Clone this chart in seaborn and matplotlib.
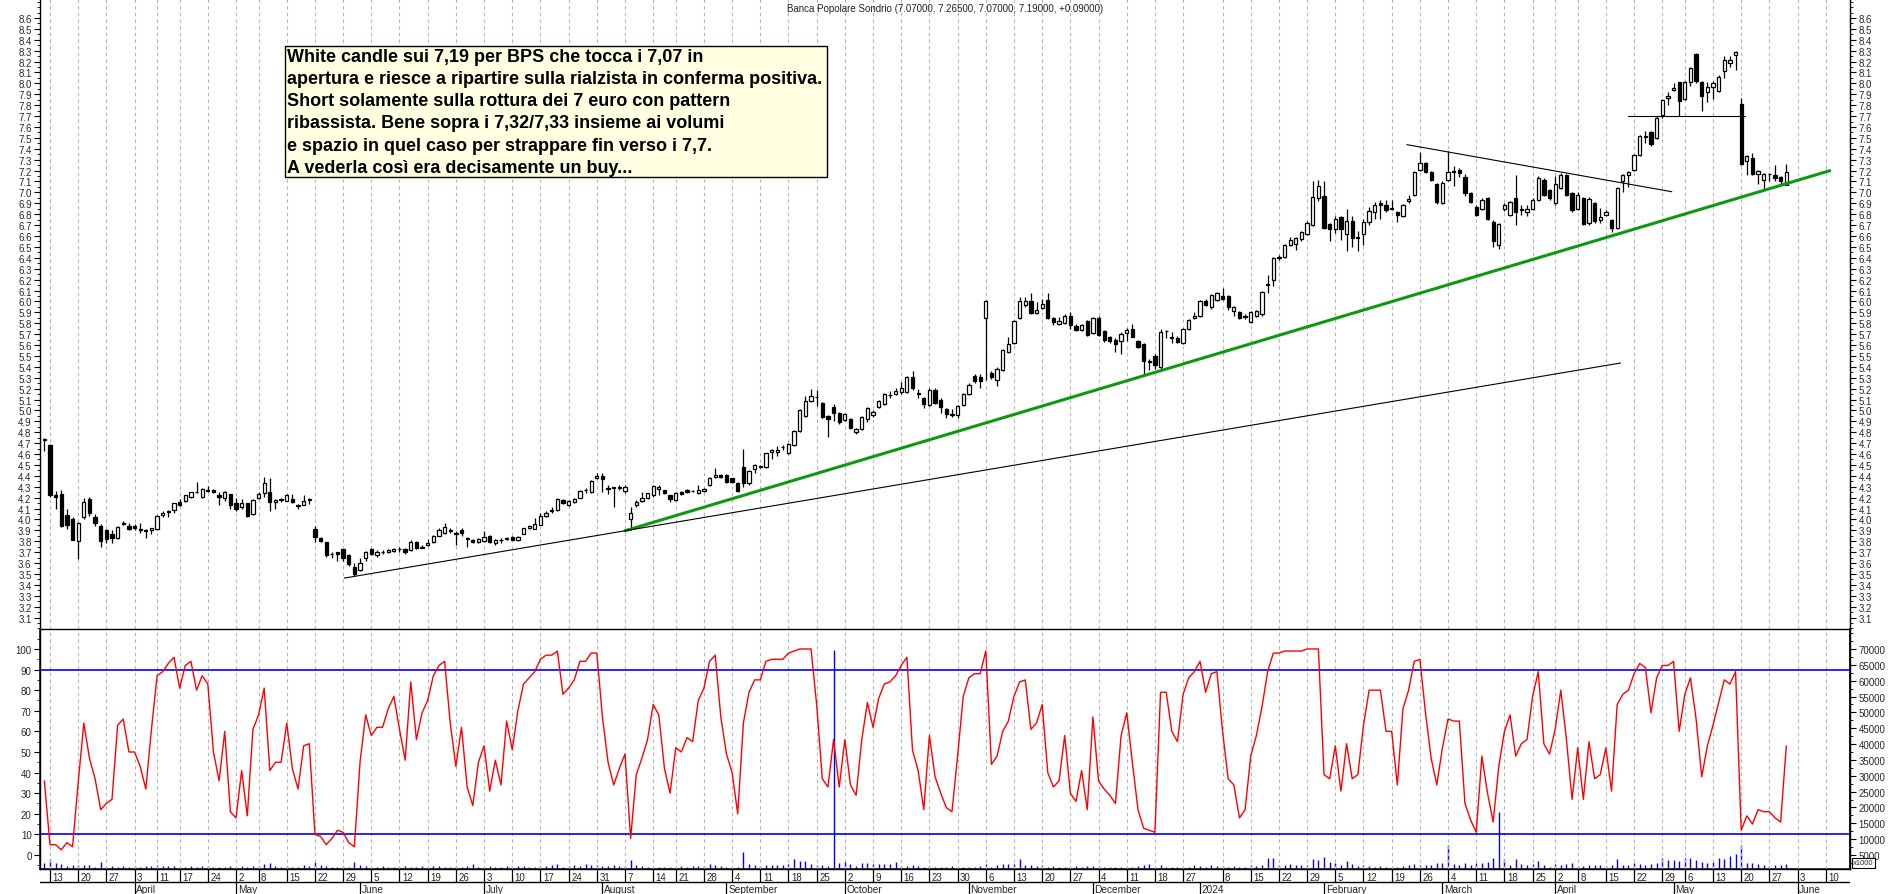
import numpy as np
import pandas as pd
import seaborn as sns
import matplotlib.pyplot as plt
from matplotlib.patches import Rectangle
from matplotlib.ticker import MultipleLocator, FixedLocator

sns.set_theme(style="white")
plt.rcParams['font.family'] = ['Liberation Sans', 'DejaVu Sans']

W, H = 1890, 895

# trading calendar (Borsa Italiana)
first_day = '2023-03-10'
axis_end_day = '2024-06-14'
market_holidays = ['2023-04-07', '2023-04-10', '2023-05-01', '2023-08-15', '2023-12-25',
                   '2023-12-26', '2024-01-01', '2024-03-29', '2024-04-01', '2024-05-01']

title_text = 'Banca Popolare Sondrio (7.07000, 7.26500, 7.07000, 7.19000, +0.09000)'
note_lines = [
    'White candle sui 7,19 per BPS che tocca i 7,07 in',
    'apertura e riesce a ripartire sulla rialzista in conferma positiva.',
    'Short solamente sulla rottura dei 7 euro con pattern',
    'ribassista. Bene sopra i 7,32/7,33 insieme ai volumi',
    'e spazio in quel caso per strappare fin verso i 7,7.',
    'A vederla così era decisamente un buy...',
]

# daily candles, one value per trading day from 10 Mar 2023
opens = [
    4.74, 4.68, 4.22, 4.23, 4.04, 4.00, 3.80, 4.02, 4.19, 4.02,
    3.94, 3.90, 3.87, 3.83, 3.96, 3.94, 3.94, 3.91, 3.89, 3.90,
    3.91, 4.04, 4.07, 4.09, 4.16, 4.17, 4.21, 4.25, 4.21, 4.27,
    4.27, 4.22, 4.20, 4.23, 4.15, 4.11, 4.15, 4.05, 4.20, 4.24,
    4.25, 4.16, 4.18, 4.17, 4.19, 4.13, 4.13, 4.18, 3.91, 3.83,
    3.79, 3.68, 3.70, 3.73, 3.67, 3.56, 3.54, 3.65, 3.73, 3.67,
    3.70, 3.70, 3.71, 3.73, 3.73, 3.72, 3.79, 3.74, 3.77, 3.79,
    3.85, 3.88, 3.90, 3.87, 3.90, 3.83, 3.81, 3.79, 3.80, 3.85,
    3.78, 3.81, 3.82, 3.84, 3.81, 3.87, 3.92, 3.91, 3.95, 4.03,
    4.08, 4.09, 4.18, 4.13, 4.16, 4.20, 4.27, 4.25, 4.38, 4.40,
    4.29, 4.29, 4.29, 4.26, 4.00, 4.13, 4.17, 4.20, 4.22, 4.28,
    4.27, 4.22, 4.18, 4.25, 4.27, 4.26, 4.24, 4.26, 4.32, 4.39,
    4.41, 4.41, 4.38, 4.33, 4.48, 4.33, 4.46, 4.48, 4.48, 4.62,
    4.62, 4.66, 4.61, 4.68, 4.81, 4.95, 5.09, 5.12, 5.07, 4.95,
    5.03, 4.98, 4.91, 4.92, 4.80, 4.83, 4.92, 4.96, 5.03, 5.06,
    5.14, 5.15, 5.17, 5.17, 5.31, 5.16, 5.11, 5.05, 5.19, 5.10,
    5.01, 4.97, 4.96, 5.05, 5.15, 5.32, 5.31, 5.85, 5.34, 5.28,
    5.37, 5.54, 5.62, 5.85, 5.97, 6.00, 5.89, 5.94, 6.01, 5.85,
    5.79, 5.80, 5.87, 5.77, 5.74, 5.82, 5.71, 5.85, 5.73, 5.67,
    5.65, 5.64, 5.71, 5.75, 5.64, 5.61, 5.45, 5.50, 5.40, 5.73,
    5.67, 5.66, 5.62, 5.75, 5.85, 5.87, 6.00, 5.95, 6.01, 6.05,
    6.05, 5.91, 5.90, 5.86, 5.81, 5.87, 5.88, 6.16, 6.20, 6.40,
    6.41, 6.52, 6.53, 6.57, 6.62, 6.70, 6.95, 6.97, 6.71, 6.66,
    6.77, 6.62, 6.74, 6.58, 6.62, 6.73, 6.82, 6.90, 6.88, 6.85,
    6.82, 6.78, 6.92, 6.98, 7.21, 7.27, 7.19, 7.08, 6.90, 7.11,
    7.20, 7.21, 7.14, 6.99, 6.87, 6.85, 6.95, 6.73, 6.52, 6.85,
    6.79, 6.95, 6.84, 6.82, 6.85, 6.93, 7.11, 7.02, 6.90, 7.04,
    7.16, 6.99, 6.85, 6.95, 6.72, 6.90, 6.75, 6.79, 6.75, 6.67,
    7.10, 7.16, 7.21, 7.34, 7.51, 7.55, 7.50, 7.71, 7.87, 7.94,
    8.01, 7.86, 8.01, 8.27, 8.01, 7.92, 7.97, 7.93, 8.11, 8.19,
    8.26, 7.81, 7.29, 7.32, 7.17, 7.11, 7.17, 7.16, 7.14, 7.07,
]
highs = [
    4.75, 4.69, 4.26, 4.27, 4.10, 4.02, 3.98, 4.20, 4.21, 4.05,
    3.96, 3.91, 3.90, 3.94, 3.99, 3.97, 3.96, 3.97, 3.91, 3.92,
    4.04, 4.08, 4.09, 4.15, 4.19, 4.22, 4.25, 4.34, 4.29, 4.31,
    4.28, 4.25, 4.26, 4.23, 4.20, 4.19, 4.15, 4.19, 4.25, 4.39,
    4.38, 4.19, 4.20, 4.23, 4.23, 4.14, 4.22, 4.20, 3.94, 3.84,
    3.79, 3.70, 3.70, 3.73, 3.68, 3.60, 3.65, 3.71, 3.74, 3.72,
    3.72, 3.73, 3.74, 3.75, 3.74, 3.81, 3.80, 3.77, 3.82, 3.86,
    3.92, 3.97, 3.92, 3.89, 3.92, 3.84, 3.82, 3.83, 3.89, 3.86,
    3.82, 3.83, 3.84, 3.85, 3.85, 3.92, 3.95, 4.01, 4.06, 4.08,
    4.11, 4.20, 4.19, 4.18, 4.20, 4.27, 4.29, 4.36, 4.43, 4.43,
    4.32, 4.30, 4.32, 4.32, 4.11, 4.18, 4.25, 4.24, 4.32, 4.32,
    4.27, 4.22, 4.25, 4.26, 4.28, 4.27, 4.32, 4.29, 4.39, 4.47,
    4.42, 4.42, 4.38, 4.34, 4.65, 4.45, 4.51, 4.50, 4.61, 4.65,
    4.67, 4.68, 4.70, 4.82, 5.01, 5.13, 5.20, 5.19, 5.08, 4.96,
    5.06, 4.99, 4.98, 4.93, 4.84, 4.95, 5.03, 5.00, 5.10, 5.16,
    5.18, 5.21, 5.26, 5.32, 5.36, 5.20, 5.12, 5.21, 5.21, 5.11,
    5.02, 5.01, 5.05, 5.16, 5.25, 5.33, 5.33, 6.01, 5.36, 5.40,
    5.56, 5.67, 5.83, 6.04, 6.04, 6.08, 5.99, 6.02, 6.08, 5.86,
    5.86, 5.88, 5.90, 5.79, 5.79, 5.83, 5.86, 5.87, 5.74, 5.68,
    5.66, 5.72, 5.76, 5.79, 5.65, 5.62, 5.47, 5.52, 5.75, 5.74,
    5.72, 5.68, 5.76, 5.84, 5.90, 6.01, 6.02, 6.07, 6.09, 6.12,
    6.06, 5.96, 5.91, 5.88, 5.91, 5.92, 6.10, 6.24, 6.41, 6.43,
    6.53, 6.59, 6.59, 6.65, 6.74, 7.10, 7.11, 7.10, 6.72, 6.78,
    6.78, 6.85, 6.78, 6.65, 6.76, 6.87, 6.91, 6.93, 6.93, 6.93,
    6.83, 6.89, 6.98, 7.20, 7.37, 7.28, 7.20, 7.09, 7.10, 7.38,
    7.24, 7.22, 7.17, 7.00, 6.88, 6.95, 6.96, 6.75, 6.72, 6.90,
    6.92, 7.16, 6.88, 6.88, 6.95, 7.15, 7.13, 7.03, 7.15, 7.18,
    7.17, 7.00, 7.00, 6.96, 6.96, 6.91, 6.86, 6.84, 6.76, 7.05,
    7.17, 7.20, 7.35, 7.53, 7.56, 7.56, 7.70, 7.86, 7.92, 8.00,
    8.01, 8.02, 8.15, 8.28, 8.02, 8.01, 8.02, 8.08, 8.25, 8.25,
    8.30, 7.87, 7.34, 7.36, 7.21, 7.18, 7.18, 7.25, 7.15, 7.265,
]
lows = [
    4.63, 4.21, 4.10, 3.93, 3.91, 3.81, 3.64, 4.00, 4.03, 3.94,
    3.75, 3.78, 3.78, 3.82, 3.95, 3.90, 3.90, 3.88, 3.83, 3.87,
    3.90, 4.02, 4.02, 4.06, 4.12, 4.16, 4.20, 4.24, 4.20, 4.25,
    4.24, 4.13, 4.17, 4.10, 4.08, 4.10, 4.02, 4.04, 4.19, 4.21,
    4.08, 4.10, 4.16, 4.17, 4.15, 4.10, 4.13, 4.14, 3.79, 3.79,
    3.66, 3.65, 3.62, 3.62, 3.57, 3.48, 3.53, 3.62, 3.67, 3.66,
    3.68, 3.69, 3.70, 3.70, 3.68, 3.71, 3.73, 3.74, 3.76, 3.78,
    3.85, 3.87, 3.88, 3.77, 3.85, 3.75, 3.78, 3.78, 3.79, 3.78,
    3.77, 3.78, 3.81, 3.81, 3.80, 3.87, 3.91, 3.91, 3.95, 4.02,
    4.06, 4.08, 4.14, 4.12, 4.15, 4.20, 4.24, 4.24, 4.37, 4.25,
    4.23, 4.11, 4.27, 4.24, 3.90, 4.11, 4.16, 4.19, 4.21, 4.22,
    4.23, 4.16, 4.17, 4.22, 4.24, 4.25, 4.23, 4.25, 4.31, 4.38,
    4.38, 4.33, 4.33, 4.25, 4.30, 4.32, 4.43, 4.47, 4.47, 4.55,
    4.58, 4.64, 4.60, 4.67, 4.80, 4.94, 5.08, 5.04, 4.93, 4.76,
    4.90, 4.88, 4.90, 4.83, 4.78, 4.82, 4.89, 4.94, 5.02, 5.05,
    5.11, 5.14, 5.15, 5.16, 5.19, 5.11, 5.02, 5.04, 5.06, 4.98,
    4.93, 4.94, 4.93, 5.04, 5.14, 5.25, 5.21, 5.28, 5.29, 5.22,
    5.36, 5.53, 5.61, 5.84, 5.95, 5.88, 5.88, 5.93, 5.84, 5.78,
    5.78, 5.79, 5.75, 5.73, 5.73, 5.68, 5.70, 5.68, 5.63, 5.62,
    5.54, 5.52, 5.64, 5.67, 5.57, 5.32, 5.37, 5.38, 5.38, 5.66,
    5.62, 5.62, 5.61, 5.74, 5.84, 5.86, 5.96, 5.93, 6.00, 6.01,
    5.92, 5.87, 5.84, 5.84, 5.80, 5.86, 5.87, 6.08, 6.14, 6.38,
    6.40, 6.51, 6.47, 6.55, 6.61, 6.69, 6.92, 6.66, 6.55, 6.63,
    6.56, 6.46, 6.50, 6.46, 6.52, 6.70, 6.76, 6.76, 6.82, 6.84,
    6.73, 6.77, 6.90, 6.97, 7.20, 7.18, 7.10, 6.89, 6.89, 7.10,
    7.06, 7.14, 6.97, 6.90, 6.78, 6.84, 6.75, 6.50, 6.48, 6.83,
    6.78, 6.70, 6.79, 6.78, 6.84, 6.92, 6.97, 6.93, 6.88, 7.03,
    6.97, 6.82, 6.84, 6.70, 6.70, 6.72, 6.72, 6.78, 6.64, 6.66,
    7.00, 7.05, 7.20, 7.33, 7.45, 7.43, 7.49, 7.68, 7.80, 7.93,
    7.70, 7.85, 7.98, 8.00, 7.75, 7.83, 7.86, 7.92, 8.05, 8.15,
    8.12, 7.25, 7.16, 7.16, 7.08, 7.02, 7.10, 7.10, 7.08, 7.07,
]
closes = [
    4.73, 4.22, 4.21, 3.94, 3.95, 3.81, 3.97, 4.16, 4.06, 3.97,
    3.80, 3.82, 3.83, 3.93, 3.97, 3.91, 3.92, 3.90, 3.90, 3.92,
    4.03, 4.06, 4.08, 4.15, 4.13, 4.22, 4.25, 4.25, 4.28, 4.26,
    4.25, 4.21, 4.25, 4.13, 4.10, 4.15, 4.03, 4.18, 4.23, 4.33,
    4.16, 4.18, 4.18, 4.22, 4.16, 4.12, 4.17, 4.19, 3.84, 3.80,
    3.67, 3.68, 3.68, 3.65, 3.59, 3.50, 3.60, 3.70, 3.68, 3.70,
    3.70, 3.72, 3.73, 3.73, 3.70, 3.79, 3.74, 3.75, 3.78, 3.85,
    3.90, 3.93, 3.89, 3.87, 3.88, 3.82, 3.79, 3.82, 3.84, 3.79,
    3.81, 3.81, 3.83, 3.81, 3.84, 3.92, 3.94, 3.96, 4.03, 4.06,
    4.09, 4.19, 4.15, 4.17, 4.19, 4.26, 4.27, 4.35, 4.40, 4.37,
    4.28, 4.29, 4.29, 4.30, 4.06, 4.16, 4.20, 4.24, 4.31, 4.30,
    4.24, 4.19, 4.24, 4.23, 4.25, 4.26, 4.27, 4.28, 4.38, 4.41,
    4.39, 4.34, 4.34, 4.26, 4.33, 4.44, 4.50, 4.49, 4.61, 4.64,
    4.64, 4.66, 4.69, 4.81, 5.00, 5.09, 5.13, 5.12, 4.94, 4.92,
    4.98, 4.89, 4.97, 4.84, 4.83, 4.94, 5.02, 4.99, 5.09, 5.15,
    5.14, 5.18, 5.21, 5.31, 5.21, 5.15, 5.06, 5.19, 5.07, 5.03,
    4.97, 4.96, 5.04, 5.15, 5.23, 5.27, 5.27, 6.00, 5.31, 5.38,
    5.55, 5.61, 5.82, 6.00, 6.00, 5.89, 5.92, 5.98, 5.85, 5.81,
    5.82, 5.87, 5.78, 5.74, 5.78, 5.69, 5.85, 5.69, 5.65, 5.64,
    5.61, 5.70, 5.74, 5.67, 5.58, 5.45, 5.44, 5.42, 5.72, 5.73,
    5.66, 5.63, 5.75, 5.83, 5.87, 6.00, 5.97, 6.06, 6.08, 6.02,
    5.95, 5.95, 5.85, 5.86, 5.90, 5.91, 6.09, 6.15, 6.40, 6.41,
    6.52, 6.56, 6.58, 6.64, 6.72, 6.96, 7.06, 6.67, 6.66, 6.76,
    6.66, 6.74, 6.58, 6.59, 6.73, 6.83, 6.88, 6.88, 6.84, 6.85,
    6.79, 6.88, 6.94, 7.19, 7.27, 7.19, 7.11, 6.91, 7.09, 7.19,
    7.19, 7.18, 6.99, 6.91, 6.79, 6.93, 6.76, 6.55, 6.71, 6.88,
    6.91, 6.82, 6.85, 6.85, 6.93, 7.13, 6.98, 6.95, 7.08, 7.16,
    6.98, 6.84, 6.98, 6.71, 6.94, 6.74, 6.77, 6.82, 6.67, 7.04,
    7.16, 7.19, 7.34, 7.52, 7.52, 7.44, 7.68, 7.85, 7.88, 7.96,
    7.84, 8.01, 8.14, 8.02, 7.88, 7.97, 8.00, 8.06, 8.21, 8.21,
    8.29, 7.26, 7.33, 7.17, 7.20, 7.17, 7.17, 7.13, 7.10, 7.19,
]

# oscillator (0-100) and volume (x1000 shares)
stoch = [
    36, 5, 5, 2.5, 6, 4, 35, 64, 47, 37,
    22, 25, 27, 63, 66, 50, 50, 43, 32, 61,
    87, 89, 93, 96, 81, 92, 94, 80, 87, 83,
    50, 36, 60, 21, 18, 41, 19, 61, 68, 81,
    41, 45, 45, 64, 42, 32, 53, 54, 10, 9,
    5, 8, 12, 11, 6, 4, 45, 68, 58, 62,
    62, 71, 77, 61, 46, 84, 56, 69, 75, 87,
    92, 94, 64, 43, 62, 33, 24, 45, 53, 31,
    46, 34, 65, 51, 70, 83, 86, 89, 95, 97,
    97, 99, 78, 81, 85, 94, 94, 98, 98, 67,
    45, 34, 42, 49, 8, 39, 47, 56, 73, 68,
    42, 30, 52, 50, 57, 55, 75, 81, 94, 97,
    67, 49, 40, 20, 64, 79, 85, 85, 94, 95,
    95, 95, 98, 99, 100, 100, 100, 73, 37, 33,
    56, 33, 56, 34, 29, 56, 74, 62, 76, 83,
    84, 87, 92, 96, 51, 41, 22, 58, 38, 30,
    23, 21, 48, 77, 86, 88, 88, 99, 44, 48,
    60, 65, 77, 84, 85, 61, 64, 73, 40, 33,
    36, 58, 30, 26, 41, 22, 67, 36, 32, 29,
    25, 58, 69, 45, 22, 13, 12, 11, 79, 79,
    60, 55, 78, 86, 89, 94, 79, 88, 89, 60,
    37, 34, 18, 22, 48, 58, 72, 89, 98, 98,
    99, 99, 99, 99, 100, 100, 100, 39, 37, 53,
    31, 54, 37, 39, 63, 80, 80, 80, 60, 60,
    34, 71, 80, 94, 95, 69, 47, 34, 52, 66,
    65, 65, 25, 17, 11, 48, 30, 16, 43, 60,
    68, 48, 54, 56, 77, 89, 54, 49, 61, 80,
    56, 27, 52, 27, 55, 37, 39, 52, 31, 73,
    78, 80, 88, 93, 91, 69, 86, 92, 92, 94,
    60, 78, 86, 66, 38, 53, 63, 74, 85, 83,
    89, 12, 19, 15, 22, 21, 21, 18, 16, 53,
]
volume_k = [
    2500, 3700, 2500, 2200, 1400, 1800, 1800, 1800, 1800, 1100,
    2700, 1100, 1400, 1100, 1600, 1300, 1500, 1200, 1400, 1600,
    1900, 1500, 1400, 1600, 1300, 1200, 1500, 1300, 1600, 1400,
    1200, 1100, 1300, 1500, 1300, 1400, 1200, 1600, 1500, 2300,
    2600, 1500, 1300, 1600, 1200, 1100, 1700, 1500, 2700, 1800,
    1500, 1300, 1200, 1400, 1300, 2700, 1700, 1400, 1300, 1200,
    1400, 1100, 1200, 1300, 1500, 1300, 1200, 1400, 1300, 1600,
    1400, 1200, 1300, 1400, 1100, 1500, 2100, 1300, 1200, 1600,
    1300, 1200, 1500, 1300, 1600, 1400, 1200, 1300, 1500, 1400,
    1800, 2300, 1300, 1500, 2000, 1600, 2300, 1800, 2000, 1400,
    1500, 2000, 1400, 1600, 3500, 1700, 1400, 1200, 1300, 1100,
    1200, 1300, 1200, 1500, 1200, 1400, 1600, 1500, 2100, 1700,
    1400, 1300, 1200, 1300, 6000, 2200, 1700, 1400, 1900, 1800,
    1900, 1900, 2300, 3700, 3200, 3200, 2200, 1800, 1800, 1600,
    69700, 2500, 3000, 2200, 1500, 2600, 2600, 2200, 2200, 2100,
    2100, 2900, 1600, 1400, 2000, 1500, 1300, 1600, 1200, 1300,
    1100, 1400, 1200, 1300, 1200, 1100, 1600, 2100, 1300, 1800,
    2100, 2100, 2100, 3700, 1800, 1800, 1400, 2000, 1300, 1500,
    1200, 1100, 1100, 1400, 1300, 1600, 1400, 1500, 1100, 1200,
    1300, 1300, 1200, 1300, 1400, 1800, 2200, 1200, 1800, 1300,
    1200, 1100, 1300, 1200, 1700, 1400, 1300, 1800, 1600, 1400,
    1300, 1400, 1200, 1300, 1700, 1500, 1800, 4000, 4000, 2000,
    2000, 2200, 1700, 2000, 1800, 3600, 3300, 4300, 2800, 2400,
    2000, 3000, 2200, 1600, 1700, 1500, 1300, 1500, 1200, 1100,
    1200, 1500, 1800, 2200, 2000, 2000, 1700, 2500, 2400, 8300,
    2200, 1900, 2400, 2000, 2400, 2400, 2700, 4100, 18600, 3700,
    1900, 3600, 2300, 2000, 2100, 3100, 1800, 1300, 2100, 1700,
    2200, 2600, 1600, 1600, 1800, 1900, 1800, 1600, 1700, 3700,
    2000, 1900, 2400, 2100, 1700, 2200, 2600, 4000, 3400, 3400,
    3200, 4000, 4000, 3300, 2800, 2600, 2900, 4000, 3700, 4600,
    5300, 8000, 2500, 2400, 2200, 1800, 1600, 1800, 1800, 2200,
]

# hand-drawn lines: (trading-day position, price) end points
support_green = ([103.0, 316.7], [3.896, 7.199])
support_long = ([53.2, 279.6], [3.462, 5.435])
triangle_top = ([241.7, 288.7], [7.438, 7.006])
neckline = ([280.9, 301.7], [7.70, 7.70])


def fig_box(x0, y0, x1, y1):
    return [x0 / W, 1 - y1 / H, (x1 - x0) / W, (y1 - y0) / H]


days = pd.bdate_range(first_day, axis_end_day)
days = days[~days.isin(pd.to_datetime(market_holidays))]
week_id = days.to_period('W')
x_lo, x_hi = -0.77, 320.3
week_starts = [i for i in range(1, len(days)) if week_id[i] != week_id[i - 1]
               and days[i].year == days[i - 1].year and i < x_hi]
month_starts = [i for i in range(1, len(days)) if days[i].month != days[i - 1].month and i < x_hi]

fig = plt.figure(figsize=(W / 100, H / 100), dpi=100)
ax = fig.add_axes(fig_box(40, 0, 1850, 630))
axo = fig.add_axes(fig_box(40, 630, 1850, 870))
axd = fig.add_axes(fig_box(40, 870, 1850, 895))

for a in (ax, axo):
    for p in week_starts:
        a.axvline(p, color='#b4b4b4', lw=0.8, ls=(0, (3, 3)), zorder=0)
    for side in ('left', 'right', 'bottom'):
        a.spines[side].set_color('black')
        a.spines[side].set_linewidth(1)
    a.spines['top'].set_visible(False)
    a.set_xlim(x_lo, x_hi)
    a.set_xticks([])

# --- candles
o, hi, lo, c = (np.array(v, dtype=float) for v in (opens, highs, lows, closes))
idx = np.arange(len(c))
up = c >= o
body_low = np.minimum(o, c)
body_h = np.maximum(np.abs(c - o), 0.003)
ax.vlines(idx, lo, hi, color='black', lw=0.9, zorder=3)
ax.bar(idx[up], body_h[up], bottom=body_low[up], width=0.58, color='white',
       edgecolor='black', linewidth=0.9, zorder=4)
ax.bar(idx[~up], body_h[~up], bottom=body_low[~up], width=0.58, color='black',
       edgecolor='black', linewidth=0.9, zorder=4)

ax.plot(*support_green, color='#0c9a0c', lw=2.2, zorder=5)
for xs, ys in (support_long, triangle_top, neckline):
    ax.plot(xs, ys, color='black', lw=0.8, zorder=5)

ax.set_ylim(2.995, 8.774)
ax.yaxis.set_major_locator(FixedLocator(np.round(np.arange(3.1, 8.65, 0.1), 1)))
ax.yaxis.set_minor_locator(MultipleLocator(0.05))
ax.yaxis.set_major_formatter(lambda v, pos: f'{v:.1f}')
ax.tick_params(axis='y', which='major', left=True, right=True, labelleft=True, labelright=True,
               direction='out', length=4, width=0.8, color='black', labelsize=7, pad=2)
ax.tick_params(axis='y', which='minor', left=True, right=True, direction='out',
               length=2, width=0.6, color='black')

# --- oscillator + volume
axv = axo.twinx()
axv.vlines(idx, 0, volume_k, color='blue', lw=1, zorder=2)
axv.set_ylim(583, 76311)
axv.yaxis.set_major_locator(FixedLocator(range(5000, 70001, 5000)))
axv.yaxis.set_minor_locator(MultipleLocator(2500))
axv.yaxis.set_major_formatter(lambda v, pos: f'{v:.0f}')
axv.tick_params(axis='y', which='major', right=True, direction='out', length=4, width=0.8,
                color='black', labelsize=7, pad=2)
axv.tick_params(axis='y', which='minor', right=True, direction='out', length=2, width=0.6, color='black')
axv.spines['top'].set_visible(False)
axv.spines['right'].set_color('black')
axv.set_xlim(x_lo, x_hi)

sns.lineplot(x=idx, y=np.array(stoch, dtype=float), ax=axo, color='red', lw=1, zorder=4)
axo.axhline(90, color='blue', lw=1.2, zorder=3)
axo.axhline(10, color='blue', lw=1.2, zorder=3)
axo.set_ylim(-6.8, 109.7)
axo.set_xlabel('')
axo.set_ylabel('')
axo.yaxis.set_major_locator(FixedLocator(range(0, 101, 10)))
axo.yaxis.set_minor_locator(MultipleLocator(5))
axo.tick_params(axis='y', which='major', left=True, direction='out', length=4, width=0.8,
                color='black', labelsize=7, pad=2)
axo.tick_params(axis='y', which='minor', left=True, direction='out', length=2, width=0.6, color='black')
axo.set_zorder(axv.get_zorder() + 1)
axo.patch.set_visible(False)

# --- date strip
axd.set_xlim(x_lo, x_hi)
axd.set_ylim(0, 1)
axd.axis('off')
axd.axhline(0.48, color='black', lw=1)
for p in week_starts:
    axd.vlines(p, 0.48, 1, color='black', lw=0.9)
    axd.text(p + 0.45, 0.86, str(days[p].day), fontsize=7, va='top', ha='left')
for p in month_starts:
    axd.vlines(p, 0, 0.48, color='black', lw=0.9)
    name = str(days[p].year) if days[p].month == 1 else days[p].strftime('%B')
    axd.text(p + 0.3, 0.40, name, fontsize=7.3, va='top', ha='left', clip_on=False)

# --- texts
fig.text(0.5, 1 - 9 / H, title_text, fontsize=7, ha='center', va='center', color='#222222')
fig.add_artist(Rectangle((284.5 / W, 1 - 178 / H), (827 - 284.5) / W, (178 - 46.7) / H,
                         transform=fig.transFigure, facecolor='#ffffe1', edgecolor='black',
                         lw=1, zorder=10))
for k, line in enumerate(note_lines):
    fig.text(287 / W, 1 - (57 + 22.3 * k) / H, line, fontsize=13, fontweight='bold',
             va='center', ha='left', color='black', zorder=11)
fig.text(1853 / W, 1 - 864 / H, 'x1000', fontsize=5.5, ha='left', va='center',
         bbox=dict(facecolor='white', edgecolor='black', lw=0.8, pad=0.8))

fig.savefig('out.png', dpi=100)
